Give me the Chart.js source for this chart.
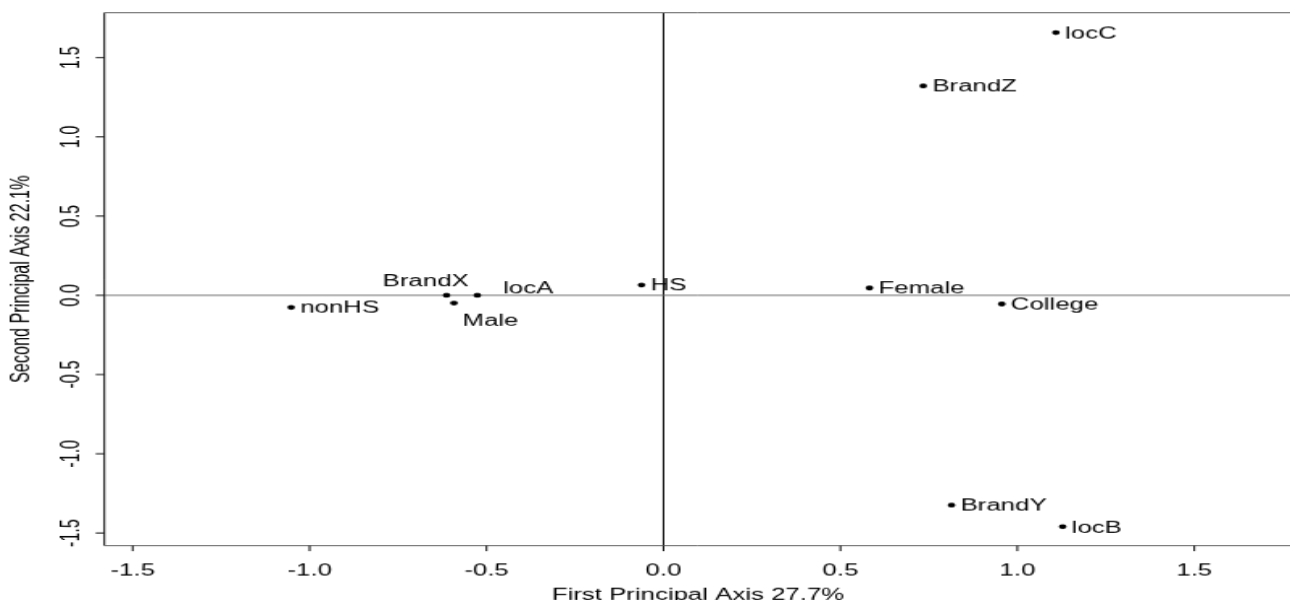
<!DOCTYPE html>
<html>
<head>
<meta charset="utf-8">
<script src="https://cdn.jsdelivr.net/npm/chart.js@4.4.1/dist/chart.umd.min.js"></script>
<style>
  html, body { margin: 0; padding: 0; overflow: hidden; background: #fff; }
  /* the reference is an 800x600 R plot stretched out to 1290x609 */
  #wrap { width: 805px; height: 600px; transform: scale(1.6125, 1.015); transform-origin: 0 0; }
  #ca { width: 805px; height: 600px; }
</style>
</head>
<body>
<div id="wrap"><canvas id="ca" width="805" height="600"></canvas></div>
<script>
// categories and their coordinates on the two principal axes
const labels = ['nonHS', 'BrandX', 'Male', 'locA', 'HS', 'Female', 'College', 'BrandZ', 'locC', 'BrandY', 'locB'];
const dim1 = [-1.052, -0.613, -0.592, -0.526, -0.062, 0.582, 0.956, 0.734, 1.109, 0.814, 1.128];
const dim2 = [-0.076, 0.000, -0.049, 0.000, 0.065, 0.046, -0.055, 1.321, 1.658, -1.324, -1.460];

const tickValues = [-1.5, -1.0, -0.5, 0.0, 0.5, 1.0, 1.5];
const tickLabels = ['-1.5', '-1.0', '-0.5', '0.0', '0.5', '1.0', '1.5'];
const xTitle = 'First Principal Axis 27.7%';
const yTitle = 'Second Principal Axis 22.1%';

// where each label sits relative to its point (px)
const defaultPlace = { dx: 5.6, dy: 5.7, align: 'left' };
const placement = {
  BrandX: { dx: -12.9, dy: -9.1, align: 'center' },
  locA: { dx: 16, dy: -1.5, align: 'left' },
  Male: { dx: 5.3, dy: 22.3, align: 'left' }
};

const FONT = '16px "Liberation Sans", Arial, sans-serif';

const rPlot = {
  id: 'rPlot',
  beforeDatasetsDraw(chart) {
    const { ctx, chartArea: a } = chart;
    const xs = chart.scales.x, ys = chart.scales.y;
    const x0 = xs.getPixelForValue(0), y0 = ys.getPixelForValue(0);
    ctx.save();
    ctx.lineWidth = 1;

    // frame: left, top, bottom (right edge is cut off)
    ctx.strokeStyle = '#000';
    ctx.beginPath();
    ctx.moveTo(a.left, a.top); ctx.lineTo(a.left, a.bottom);
    ctx.moveTo(x0, a.top); ctx.lineTo(x0, a.bottom);
    ctx.stroke();
    ctx.strokeStyle = '#666';
    ctx.beginPath();
    ctx.moveTo(a.left, a.top); ctx.lineTo(a.right, a.top);
    ctx.moveTo(a.left, a.bottom); ctx.lineTo(a.right, a.bottom);
    ctx.moveTo(a.left, y0); ctx.lineTo(a.right, y0);
    ctx.stroke();

    // tick marks
    ctx.strokeStyle = '#000';
    ctx.beginPath();
    tickValues.forEach(v => {
      const px = xs.getPixelForValue(v);
      ctx.moveTo(px, a.bottom); ctx.lineTo(px, a.bottom + 5.4);
      const py = ys.getPixelForValue(v);
      ctx.moveTo(a.left - 5.4, py); ctx.lineTo(a.left, py);
    });
    ctx.stroke();

    // tick labels
    ctx.fillStyle = '#000';
    ctx.font = FONT;
    ctx.textAlign = 'center';
    ctx.textBaseline = 'alphabetic';
    tickValues.forEach((v, i) => {
      ctx.fillText(tickLabels[i], xs.getPixelForValue(v), a.bottom + 29);
      ctx.save();
      ctx.translate(a.left - 16, ys.getPixelForValue(v));
      ctx.rotate(-Math.PI / 2);
      ctx.fillText(tickLabels[i], 0, 0);
      ctx.restore();
    });

    // axis titles
    ctx.fillText(xTitle, (a.left + a.right) / 2, a.bottom + 53);
    ctx.save();
    ctx.translate(a.left - 47, (a.top + a.bottom) / 2);
    ctx.rotate(-Math.PI / 2);
    ctx.fillText(yTitle, 0, 0);
    ctx.restore();
    ctx.restore();
  },
  afterDatasetsDraw(chart) {
    const ctx = chart.ctx;
    const meta = chart.getDatasetMeta(0);
    ctx.save();
    ctx.fillStyle = '#000';
    ctx.font = FONT;
    ctx.textBaseline = 'alphabetic';
    meta.data.forEach((pt, i) => {
      const p = placement[labels[i]] || defaultPlace;
      ctx.textAlign = p.align;
      ctx.fillText(labels[i], pt.x + p.dx, pt.y + p.dy);
    });
    ctx.restore();
  }
};

const ca = document.getElementById('ca');
new Chart(ca, {
  type: 'scatter',
  data: {
    datasets: [{
      data: labels.map((l, i) => ({ x: dim1[i], y: dim2[i] })),
      pointRadius: 2.4,
      pointBackgroundColor: '#000',
      pointBorderWidth: 0
    }]
  },
  options: {
    responsive: false,
    animation: false,
    layout: { padding: { left: 64.7, top: 12.5, right: 0, bottom: 62.4 } },
    scales: {
      x: { type: 'linear', display: false, min: -1.58, max: 1.775 },
      y: { type: 'linear', display: false, min: -1.58, max: 1.7835 }
    },
    plugins: { legend: { display: false }, tooltip: { enabled: false } }
  },
  plugins: [rPlot]
});
</script>
</body>
</html>
